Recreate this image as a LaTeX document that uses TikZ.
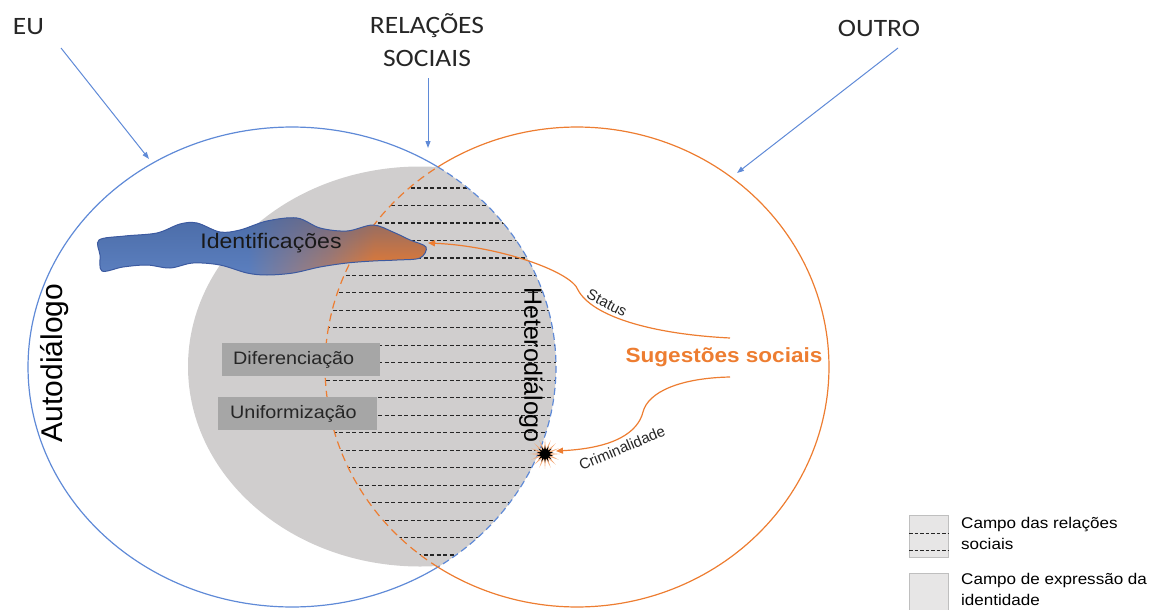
\documentclass[tikz,border=0pt]{standalone}
\usepackage{fontspec}
\setmainfont{Liberation Sans}
\newfontfamily\arialx[FakeStretch=1.1]{Liberation Sans}
\newfontfamily\calx[FakeStretch=1.1]{Carlito}
\usetikzlibrary{arrows.meta,shapes.geometric,fadings}
\definecolor{lblue}{RGB}{95,138,215}
\definecolor{oor}{RGB}{237,125,49}
\definecolor{gfill}{RGB}{208,206,206}
\definecolor{bgrey}{RGB}{166,166,166}
\definecolor{tdark}{RGB}{38,38,38}
\definecolor{bdark}{RGB}{62,92,148}
\definecolor{bmid}{RGB}{92,128,192}
\definecolor{bline}{RGB}{60,90,160}
\definecolor{lfill}{RGB}{231,230,230}
\definecolor{lline}{RGB}{191,191,191}
\colorlet{bmix}{oor!55!bmid}
\pgfdeclarehorizontalshading{blobgrad}{100bp}{color(0bp)=(bmid); color(25bp)=(bmid); color(48bp)=(bmid); color(60bp)=(bmix); color(67bp)=(oor); color(100bp)=(oor)}
\begin{document}
\begin{tikzpicture}[x=1pt,y=-1pt,
  bluec/.style={draw=lblue, line width=1.2pt},
  orangec/.style={draw=oor, line width=1.2pt},
  bluedashed/.style={bluec, dash pattern=on 7pt off 4pt},
  orangedashed/.style={orangec, dash pattern=on 8pt off 5pt},
  hatchline/.style={draw=black!85, line width=1.2pt, dash pattern=on 4pt off 2.5pt},
  bluearrow/.style={draw=lblue, line width=1pt, -{Triangle[length=7pt,width=5pt]}},
  orangearrow/.style={draw=oor, line width=1.2pt, -{Triangle[length=7pt,width=6pt]}},
  toplabel/.style={font=\calx\fontsize{25}{33}\selectfont, text=tdark, align=center, inner sep=0},
  graybox/.style={fill=bgrey, minimum height=33pt, inner ysep=0, align=left, anchor=north west, font=\arialx\fontsize{18}{22}\selectfont, text=tdark},
  smalllabel/.style={font=\fontsize{15}{17}\selectfont, text=tdark, inner sep=0},
  dialabel/.style={text=black, inner sep=0},
  legbox/.style={fill=lfill, draw=lline, line width=1pt, minimum width=39pt, minimum height=42pt, inner sep=0, anchor=north west},
  legtext/.style={font=\arialx\fontsize{15.5}{21}\selectfont, text=black, align=left, inner sep=0, anchor=north west},
  legdash/.style={draw=black!85, line width=1pt, dash pattern=on 3.5pt off 2pt}
]
\useasboundingbox (0,0) rectangle (1156,610);

% grey field and hatched lens
\begin{scope}
  \clip (292,367) ellipse [x radius=264, y radius=240];
  \fill[gfill] (420,366.5) ellipse [x radius=232, y radius=200];
  \clip (577,367) ellipse [x radius=252, y radius=240];
  \foreach \k in {0,...,21}
    \draw[hatchline] (300,{188+17.48*\k}) -- (600,{188+17.48*\k});
\end{scope}

% circles
\draw[bluec] plot[domain=56.5:303.5, samples=160, variable=\t] ({292+264*cos(\t)},{367+240*sin(\t)});
\draw[bluedashed] plot[domain=-56.5:56.5, samples=80, variable=\t] ({292+264*cos(\t)},{367+240*sin(\t)});
\draw[orangec] plot[domain=-123.5:123.5, samples=160, variable=\t] ({577+252*cos(\t)},{367+240*sin(\t)});
\draw[orangedashed] plot[domain=123.5:236.5, samples=80, variable=\t] ({577+252*cos(\t)},{367+240*sin(\t)});

% identificacoes blob
\path[shading=blobgrad] plot[smooth cycle, tension=0.55] coordinates {(99,240) (125,236) (157,233) (180,224) (197,223) (220,232) (240,230) (267,221) (297,218) (320,228) (347,231) (373,225) (393,232) (410,240) (426,247) (420,258) (397,260) (373,261) (347,263) (320,267) (293,273) (267,275) (247,273) (220,265) (193,263) (170,268) (147,265) (123,267) (102,271) (100,255)};
\fill[bdark, path fading=south, fill opacity=0.55] plot[smooth cycle, tension=0.55] coordinates {(99,240) (125,236) (157,233) (180,224) (197,223) (220,232) (240,230) (267,221) (297,218) (320,228) (347,231) (373,225) (393,232) (410,240) (426,247) (420,258) (397,260) (373,261) (347,263) (320,267) (293,273) (267,275) (247,273) (220,265) (193,263) (170,268) (147,265) (123,267) (102,271) (100,255)};
\draw[bline, line width=1pt] plot[smooth cycle, tension=0.55] coordinates {(99,240) (125,236) (157,233) (180,224) (197,223) (220,232) (240,230) (267,221) (297,218) (320,228) (347,231) (373,225) (393,232) (410,240) (426,247) (420,258) (397,260) (373,261) (347,263) (320,267) (293,273) (267,275) (247,273) (220,265) (193,263) (170,268) (147,265) (123,267) (102,271) (100,255)};
\node[font=\arialx\fontsize{21}{24}\selectfont, text=black!90, inner sep=0] (ident) at (271,243) {Identificações};
\coordinate (blobtip) at (428,243);

% grey boxes
\node[graybox, minimum width=158pt, text width=136pt, inner xsep=11pt] (dif) at (222,343) {Diferenciação};
\node[graybox, minimum width=159pt, text width=135pt, inner xsep=12pt] (uni) at (218,397) {Uniformização};

% dialogue labels
\node[dialabel, font=\fontsize{30}{34}\selectfont, rotate=90] (auto) at (55,363) {Autodiálogo};
\node[dialabel, font=\fontsize{25}{30}\selectfont, rotate=-90] (hetero) at (531,365) {Heterodiálogo};

% top labels and arrows
\node[toplabel] (eu) at (28.5,27) {EU};
\node[toplabel] (rel) at (427,40) {RELAÇÕES\\SOCIAIS};
\node[toplabel] (outro) at (879,28) {OUTRO};
\coordinate (euStart) at (61,48);
\coordinate (euTip) at (149,159);
\coordinate (relStart) at (428,78);
\coordinate (relTip) at (428,148);
\coordinate (outStart) at (898,48);
\coordinate (outTip) at (737,173);
\draw[bluearrow] (euStart) -- (euTip);
\draw[bluearrow] (relStart) -- (relTip);
\draw[bluearrow] (outStart) -- (outTip);

% sugestoes sociais
\node[font=\arialx\bfseries\fontsize{20.5}{24}\selectfont, text=oor, inner sep=0] (sug) at (724,357) {Sugestões sociais};
\coordinate (stA) at (730,338);
\coordinate (crA) at (730,377);
\coordinate (crEnd) at (556,451);
\draw[orangearrow] (stA) .. controls (650,334) and (592,316) .. (578,290) .. controls (572,272) and (500,246) .. (blobtip);
\draw[orangearrow] (crA) .. controls (680,378) and (648,392) .. (643,412) .. controls (638,432) and (615,448) .. (crEnd);
\node[smalllabel, rotate=-27] (status) at (607,303) {Status};
\node[smalllabel, rotate=23] (crim) at (622,448) {Criminalidade};

% burst
\node[star, star points=16, star point ratio=3.2, fill=oor!65, minimum size=30pt, inner sep=0] (burst) at (545,454) {};
\node[star, star points=14, star point ratio=2, fill=black, minimum size=17pt, inner sep=0] (burstc) at (545,454) {};

% legend
\node[legbox] (leg1) at (909,515) {};
\draw[legdash] ([yshift=3pt]leg1.west) -- ([yshift=3pt]leg1.east);
\draw[legdash] ([yshift=-14pt]leg1.west) -- ([yshift=-14pt]leg1.east);
\node[legbox] (leg2) at (909,573) {};
\node[legtext] (legt1) at (961,517) {Campo das relações\\sociais};
\node[legtext] (legt2) at (961,573) {Campo de expressão da\\identidade};
\end{tikzpicture}
\end{document}
